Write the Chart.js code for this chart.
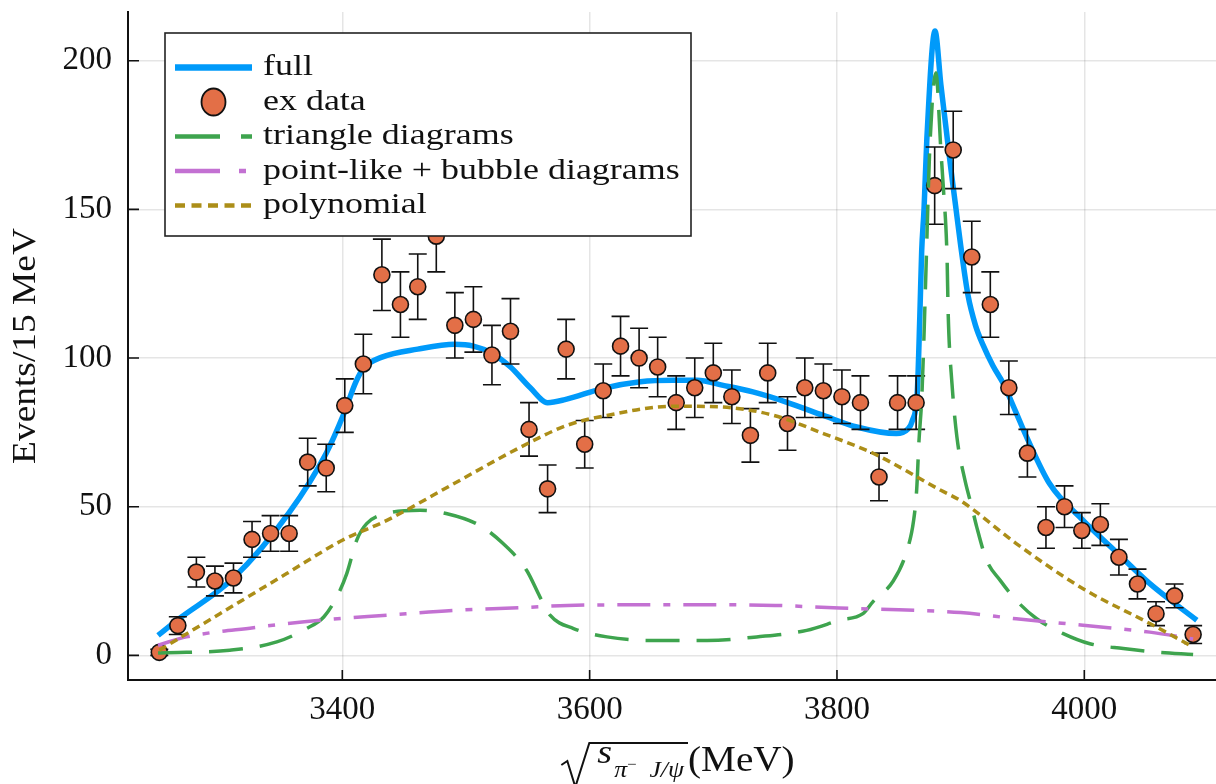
<!DOCTYPE html>
<html lang="en">
<head>
<meta charset="UTF-8">
<title>Events / 15 MeV</title>
<script src="https://cdn.jsdelivr.net/npm/chart.js"></script>
<style>
    html, body { margin: 0; padding: 0; background: #fff; }
    #wrap { width: 1216px; height: 784px; position: relative; }
</style>
</head>
<body>
<div id="wrap"><canvas id="fitChart"></canvas></div>
<script>
    // measured points (bin centres, counts, errors)
    const dataX = [3252, 3267, 3282, 3297, 3312, 3327, 3342, 3357, 3372, 3387,
        3402, 3417, 3432, 3447, 3461, 3476, 3491, 3506, 3521, 3536,
        3551, 3566, 3581, 3596, 3611, 3625, 3640, 3655, 3670, 3685,
        3700, 3715, 3730, 3744, 3760, 3774, 3789, 3804, 3819, 3834,
        3849, 3864, 3879, 3894, 3909, 3924, 3939, 3954, 3969, 3984,
        3998, 4013, 4028, 4043, 4058, 4073, 4088];
    const dataY = [1, 10, 28, 25, 26, 39, 41, 41, 65, 63,
        84, 98, 128, 118, 124, 141, 111, 113, 101, 109,
        76, 56, 103, 71, 89, 104, 100, 97, 85, 90,
        95, 87, 74, 95, 78, 90, 89, 87, 85, 60,
        85, 85, 158, 170, 134, 118, 90, 68, 43, 50,
        42, 44, 33, 24, 14, 20, 7];
    const dataErr = [1, 3, 5, 5, 5, 6, 6, 6, 8, 8,
        9, 10, 12, 11, 11, 12, 11, 11, 10, 11,
        9, 8, 10, 8, 9, 10, 10, 10, 9, 10,
        10, 9, 9, 10, 9, 10, 9, 9, 9, 8,
        9, 9, 13, 13, 12, 11, 9, 8, 7, 7,
        6, 7, 6, 5, 4, 4, 3];

    // full fit
    const fullX = [3251, 3267, 3312, 3357, 3387, 3401, 3411, 3417, 3432, 3461,
        3491, 3506, 3521, 3536, 3552, 3566, 3580, 3611, 3641, 3667,
        3687, 3708, 3732, 3759, 3789, 3816, 3848, 3857, 3861, 3865,
        3867, 3868.5, 3870.4, 3872.6, 3879.3, 3884, 3888, 3892, 3896, 3900,
        3906, 3912, 3918, 3926, 3934.5, 3944, 3953.4, 3972, 3999, 4026,
        4053, 4091];
    const fullY = [6.7, 12, 26, 48, 68, 81, 92, 96.5, 100.3, 103,
        104.6, 104, 101.6, 97, 90, 85, 86, 89.8, 92, 92.5,
        92.5, 90.8, 88.6, 85.2, 80.7, 76.8, 74.6, 76, 79, 89,
        114, 136, 150, 173, 210, 192, 178, 164, 151, 138,
        121, 111, 104.5, 97.5, 91.4, 82.5, 73.4, 57.7, 45.4, 34.7,
        24.1, 11.8];

    // triangle diagrams
    const triX = [3251, 3274, 3309, 3347, 3371, 3385, 3395.5, 3403.6, 3411.6, 3419.7,
        3436, 3463, 3484, 3511, 3530, 3549, 3560, 3568, 3587, 3614,
        3649, 3695, 3735, 3775.5, 3802, 3821, 3829, 3845.5, 3856, 3862,
        3864.5, 3866.3, 3868.5, 3870, 3872, 3875, 3880, 3884, 3886, 3889,
        3890, 3893, 3897, 3903.5, 3909, 3913, 3921, 3932, 3945, 3961.5,
        3983, 4004.5, 4031.5, 4058.5, 4088];
    const triY = [0.8, 1, 1.7, 4.5, 9, 12.9, 19.6, 27.5, 38.7, 44.3,
        47.7, 48.8, 47.7, 43.7, 37.6, 28.6, 19.5, 13.5, 9, 6.2,
        5, 5, 6.2, 8.4, 11.8, 14, 18, 25, 34.5, 45.4,
        56, 72, 86, 102.6, 130, 170, 196, 170, 157.5, 134,
        114, 91.4, 73.4, 58.9, 50, 43.2, 32, 25.2, 18.5, 12.3,
        7.3, 3.9, 2.3, 1.1, 0.3];

    // point-like + bubble diagrams
    const pbX = [3251, 3274, 3328, 3382, 3436, 3490, 3544, 3582, 3650, 3700,
        3750, 3802, 3850, 3900, 3945, 3999, 4053, 4088];
    const pbY = [3.4, 6.2, 9.3, 11.8, 13.5, 15.1, 16, 16.8, 17, 17,
        16.8, 15.9, 15.3, 14.4, 12.3, 10.1, 7.8, 5.5];

    // polynomial background
    const polyX = [3252, 3301, 3355, 3400, 3436, 3490, 3544, 3582, 3614, 3668,
        3708, 3749, 3789, 3830, 3884, 3900, 3945, 3999, 4053, 4088];
    const polyY = [1.7, 14, 27.5, 38.7, 45.4, 57.7, 70, 77.4, 80.7, 83.8,
        83.5, 80.7, 74.6, 67.8, 55.5, 52, 37.6, 22.4, 10.7, 2.8];

    const xTicks = [3400, 3600, 3800, 4000];
    const yTicks = [0, 50, 100, 150, 200];

    const serif = "'Liberation Serif', 'DejaVu Serif', serif";
    const toXY = (xs, ys) => xs.map((v, i) => ({ x: v, y: ys[i] }));

    // error bars under the markers
    const errorBars = {
        id: 'errorBars',
        beforeDatasetDraw(chart, args) {
            if (args.index !== 1) return;
            const { ctx, chartArea: a, scales: { x, y } } = chart;
            ctx.save();
            ctx.beginPath();
            ctx.rect(a.left, a.top, a.right - a.left, a.bottom - a.top);
            ctx.clip();
            ctx.strokeStyle = '#111';
            ctx.lineWidth = 1.6;
            dataX.forEach((v, i) => {
                const px = x.getPixelForValue(v);
                const top = y.getPixelForValue(dataY[i] + dataErr[i]);
                const bot = y.getPixelForValue(dataY[i] - dataErr[i]);
                ctx.beginPath();
                ctx.moveTo(px, top); ctx.lineTo(px, bot);
                ctx.moveTo(px - 9, top); ctx.lineTo(px + 9, top);
                ctx.moveTo(px - 9, bot); ctx.lineTo(px + 9, bot);
                ctx.stroke();
            });
            ctx.restore();
        }
    };

    // tick marks pointing into the plot
    const innerTicks = {
        id: 'innerTicks',
        beforeDatasetsDraw(chart) {
            const { ctx, chartArea: a, scales: { x, y } } = chart;
            ctx.save();
            ctx.strokeStyle = '#111';
            ctx.lineWidth = 1.6;
            ctx.beginPath();
            xTicks.forEach(v => {
                const px = x.getPixelForValue(v);
                ctx.moveTo(px, a.bottom); ctx.lineTo(px, a.bottom - 10);
            });
            yTicks.forEach(v => {
                const py = y.getPixelForValue(v);
                ctx.moveTo(a.left, py); ctx.lineTo(a.left + 11, py);
            });
            ctx.stroke();
            ctx.restore();
        }
    };

    // text stretched a little to get closer to the wider TeX font
    function wideText(ctx, text, x, y, sx) {
        ctx.save();
        ctx.translate(x, y);
        ctx.scale(sx, 1);
        ctx.fillText(text, 0, 0);
        ctx.restore();
    }

    // legend box in the upper left corner
    const boxLegend = {
        id: 'boxLegend',
        afterDraw(chart) {
            const { ctx, chartArea: a } = chart;
            const bx = a.left + 37, by = a.top + 21, bw = 526, bh = 203;
            ctx.save();
            ctx.fillStyle = '#fff';
            ctx.fillRect(bx, by, bw, bh);
            ctx.strokeStyle = '#222';
            ctx.lineWidth = 1.6;
            ctx.strokeRect(bx, by, bw, bh);
            ctx.font = '29px ' + serif;
            ctx.textBaseline = 'middle';
            chart.data.datasets.forEach((ds, i) => {
                const ry = by + 34.5 + i * 34.5;
                const x0 = bx + 10, x1 = bx + 87;
                ctx.save();
                if (ds.showLine) {
                    ctx.strokeStyle = ds.borderColor;
                    ctx.lineWidth = ds.borderWidth + 1;
                    ctx.setLineDash(ds.legendDash || []);
                    ctx.beginPath();
                    ctx.moveTo(x0, ry); ctx.lineTo(x1, ry);
                    ctx.stroke();
                } else {
                    ctx.fillStyle = ds.pointBackgroundColor;
                    ctx.strokeStyle = '#111';
                    ctx.lineWidth = 1.8;
                    ctx.beginPath();
                    ctx.ellipse((x0 + x1) / 2, ry, 12, 13.5, 0, 0, Math.PI * 2);
                    ctx.fill();
                    ctx.stroke();
                }
                ctx.restore();
                ctx.fillStyle = '#111';
                wideText(ctx, ds.label, bx + 98, ry, 1.24);
            });
            ctx.restore();
        }
    };

    // axis titles
    const axisTitles = {
        id: 'axisTitles',
        afterDraw(chart) {
            const { ctx, chartArea: a } = chart;
            ctx.save();
            ctx.fillStyle = '#111';

            // y title, rotated
            ctx.save();
            ctx.translate(26, (a.top + a.bottom) / 2);
            ctx.rotate(-Math.PI / 2);
            ctx.font = '34px ' + serif;
            ctx.textAlign = 'center';
            ctx.textBaseline = 'middle';
            wideText(ctx, 'Events/15 MeV', 0, 0, 1.1);
            ctx.restore();

            // x title: sqrt(s_{pi- J/psi}) (MeV)
            const cx = (a.left + a.right) / 2 + 6;
            const base = 771;
            ctx.textBaseline = 'alphabetic';
            const fS = 'italic 34px ' + serif;
            const fSub = 'italic 23px ' + serif;
            const fSup = '15px ' + serif;
            const fMain = '35px ' + serif;
            const k = 1.12;
            ctx.font = fS; const wS = ctx.measureText('s').width * k;
            ctx.font = fSub; const wPi = ctx.measureText('π').width * k;
            ctx.font = fSup; const wMinus = ctx.measureText('−').width * k;
            ctx.font = fSub; const wJ = ctx.measureText('  J/ψ').width * k;
            ctx.font = fMain; const wMeV = ctx.measureText('(MeV)').width * k;
            const wRad = 28;
            const inner = 8 + wS + 2 + wPi + wMinus + wJ + 4;
            const total = wRad + inner + wMeV;
            const x0 = cx - total / 2;
            ctx.strokeStyle = '#111';
            ctx.lineWidth = 2;
            ctx.beginPath();
            ctx.moveTo(x0, base - 6);
            ctx.lineTo(x0 + 6, base - 10);
            ctx.lineTo(x0 + 14, base + 16);
            ctx.lineTo(x0 + wRad, base - 28);
            ctx.lineTo(x0 + wRad + inner, base - 28);
            ctx.stroke();
            let px = x0 + wRad + 8;
            ctx.font = fS; wideText(ctx, 's', px, base - 8, k); px += wS + 2;
            ctx.font = fSub; wideText(ctx, 'π', px, base + 6, k); px += wPi;
            ctx.font = fSup; wideText(ctx, '−', px, base - 2, k); px += wMinus;
            ctx.font = fSub; wideText(ctx, '  J/ψ', px, base + 6, k); px += wJ + 4;
            ctx.font = fMain; wideText(ctx, '(MeV)', px, base, k);
            ctx.restore();
        }
    };

    const ctx = document.getElementById('fitChart').getContext('2d');

    const fitChart = new Chart(ctx, {
        type: 'scatter',
        data: {
            datasets: [
                {
                    label: 'full',
                    data: toXY(fullX, fullY),
                    showLine: true,
                    borderColor: '#009AFA',
                    borderWidth: 5.5,
                    pointRadius: 0,
                    cubicInterpolationMode: 'monotone',
                    order: 5
                },
                {
                    label: 'ex data',
                    data: toXY(dataX, dataY),
                    showLine: false,
                    pointRadius: 8,
                    pointBackgroundColor: '#E36F47',
                    pointBorderColor: '#111',
                    pointBorderWidth: 1.6,
                    order: 4
                },
                {
                    label: 'triangle diagrams',
                    data: toXY(triX, triY),
                    showLine: true,
                    borderColor: '#3EA44E',
                    borderWidth: 3.5,
                    borderDash: [34, 17],
                    legendDash: [45, 21],
                    pointRadius: 0,
                    cubicInterpolationMode: 'monotone',
                    order: 3
                },
                {
                    label: 'point-like + bubble diagrams',
                    data: toXY(pbX, pbY),
                    showLine: true,
                    borderColor: '#C371D2',
                    borderWidth: 3.5,
                    borderDash: [33, 13, 7, 13],
                    legendDash: [45, 19, 7, 19],
                    pointRadius: 0,
                    cubicInterpolationMode: 'monotone',
                    order: 2
                },
                {
                    label: 'polynomial',
                    data: toXY(polyX, polyY),
                    showLine: true,
                    borderColor: '#AC8E18',
                    borderWidth: 3.5,
                    borderDash: [8, 5],
                    legendDash: [10, 6.5],
                    pointRadius: 0,
                    cubicInterpolationMode: 'monotone',
                    order: 1
                }
            ]
        },
        options: {
            responsive: true,
            maintainAspectRatio: false,
            animation: false,
            layout: {
                autoPadding: false,
                padding: { top: 12, right: 0, bottom: 0, left: 0 }
            },
            plugins: {
                legend: { display: false },
                tooltip: { enabled: false }
            },
            scales: {
                x: {
                    type: 'linear',
                    min: 3226.7,
                    max: 4106.5,
                    afterBuildTicks: s => { s.ticks = xTicks.map(v => ({ value: v })); },
                    afterFit: s => {
                        s.height = 104;
                        s.paddingLeft = 0;
                        s.paddingRight = 0;
                    },
                    grid: { color: 'rgba(0,0,0,0.1)', lineWidth: 1.5, drawTicks: false },
                    border: { display: true, color: '#111', width: 2 },
                    ticks: {
                        color: '#111',
                        font: { family: serif, size: 33 },
                        padding: 11,
                        maxRotation: 0,
                        callback: v => String(v)
                    }
                },
                y: {
                    min: -8.3,
                    max: 216.4,
                    afterBuildTicks: s => { s.ticks = yTicks.map(v => ({ value: v })); },
                    afterFit: s => {
                        s.width = 128;
                        s.paddingTop = 0;
                        s.paddingBottom = 0;
                    },
                    grid: { color: 'rgba(0,0,0,0.1)', lineWidth: 1.5, drawTicks: false },
                    border: { display: true, color: '#111', width: 2 },
                    ticks: {
                        color: '#111',
                        font: { family: serif, size: 33 },
                        padding: 16,
                        callback: v => String(v)
                    }
                }
            }
        },
        plugins: [errorBars, innerTicks, boxLegend, axisTitles]
    });
</script>
</body>
</html>
